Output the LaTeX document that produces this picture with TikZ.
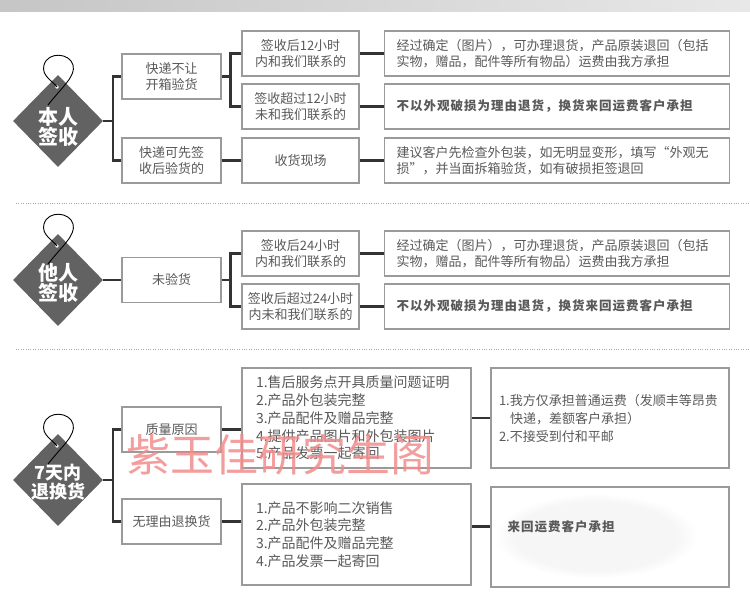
\documentclass[tikz,border=0pt]{standalone}
\usepackage{fontspec}
\newfontfamily\cjk{Noto Sans CJK SC}
\newfontfamily\cjkwide[LetterSpace=8]{Noto Sans CJK SC}
\usepackage{tikz}
\usetikzlibrary{shapes.geometric, fadings}
\usepackage{xcolor}
\definecolor{boxgray}{HTML}{9A9A9A}
\definecolor{txtgray}{HTML}{595959}
\definecolor{linkgray}{HTML}{333333}
\definecolor{taggray}{HTML}{626262}
\definecolor{markred}{HTML}{F28C8C}

\tikzset{
  leftbox/.style={draw=boxgray, line width=1.2pt, text=txtgray, align=center,
    minimum width=99pt, minimum height=45pt, inner sep=0pt,
    font=\cjk\fontsize{13}{16}\selectfont},
  midbox/.style={leftbox, minimum width=117pt},
  notebox/.style={leftbox, align=left, text width=321pt, inner xsep=12pt},
  boldnote/.style={notebox, font=\cjkwide\bfseries\fontsize{12.5}{16}\selectfont},
  listbox/.style={leftbox, align=left, text width=201pt, inner xsep=14pt,
    minimum height=100pt, font=\cjk\fontsize{14}{17.8}\selectfont},
  costbox/.style={leftbox, align=left, text width=222pt, inner xsep=8pt,
    minimum height=100pt, font=\cjk\fontsize{13}{18}\selectfont},
  tag/.style={diamond, fill=taggray, minimum width=90pt, minimum height=92pt, inner sep=0pt},
  tagtext/.style={text=white, align=center, inner sep=0pt,
    font=\cjk\bfseries\fontsize{20}{19}\selectfont},
  cord/.style={black, line width=0.9pt},
  link/.style={linkgray, line width=2.4pt},
  sepline/.style={gray!70, line width=0.8pt, dash pattern=on 1pt off 1.4pt}
}

\begin{document}
\begin{tikzpicture}[x=1pt, y=-1pt]
  \useasboundingbox (0,0) rectangle (750,610);
  \fill[white] (0,0) rectangle (750,610);
  % Header strip
  \shade[left color=gray!45, right color=gray!18] (0,0) rectangle (750,12);
  % Separators
  \draw[sepline] (16,203) -- (750,203);
  \draw[sepline] (16,349) -- (750,349);

  % Section 1
  \node[tag] (tagA) at (58,121) {};
  \node[tagtext] (tagAtext) at ([yshift=-6pt]tagA.center) {本人\\签收};
  \node[leftbox] (boxA1) at (171.5,76.5) {快递不让\\开箱验货};
  \node[leftbox] (boxA2) at (171.5,160.5) {快递可先签\\收后验货的};
  \node[midbox] (midA1) at (300.5,53.5) {签收后12小时\\内和我们联系的};
  \node[midbox] (midA2) at (300.5,106.5) {签收超过12小时\\未和我们联系的};
  \node[midbox] (midA3) at (300.5,160.5) {收货现场};
  \node[notebox] (rA1) at (557,53.5) {经过确定（图片），可办理退货，产品原装退回（包括\\实物，赠品，配件等所有物品）运费由我方承担};
  \node[boldnote] (rA2) at (557,106.5) {不以外观破损为理由退货，换货来回运费客户承担};
  \node[notebox] (rA3) at (557,160.5) {建议客户先检查外包装，如无明显变形，填写“外观无\\损”，并当面拆箱验货，如有破损拒签退回};

  % Section 2
  \node[tag] (tagB) at (58,280) {};
  \node[tagtext] (tagBtext) at ([yshift=-3pt]tagB.center) {他人\\签收};
  \node[leftbox] (boxB) at (171.5,280) {未验货};
  \node[midbox] (midB1) at (300.5,253.5) {签收后24小时\\内和我们联系的};
  \node[midbox] (midB2) at (300.5,306.5) {签收后超过24小时\\内未和我们联系的};
  \node[notebox] (rB1) at (557,253.5) {经过确定（图片），可办理退货，产品原装退回（包括\\实物，赠品，配件等所有物品）运费由我方承担};
  \node[boldnote] (rB2) at (557,306.5) {不以外观破损为理由退货，换货来回运费客户承担};

  % Section 3
  \node[tag] (tagC) at (58,480) {};
  \node[tagtext, font=\cjk\bfseries\fontsize{18}{19}\selectfont] (tagCtext)
    at ([yshift=-2pt]tagC.center) {7天内\\退换货};
  \node[leftbox] (boxC1) at (171.5,429.5) {质量原因};
  \node[leftbox] (boxC2) at (171.5,521.5) {无理由退换货};
  \node[listbox] (listC1) at (356.5,418) {1.售后服务点开具质量问题证明\\2.产品外包装完整\\3.产品配件及赠品完整\\4.提供产品图片和外包装图片\\5.产品发票一起寄回};
  \node[listbox, minimum height=101pt] (listC2) at (356.5,534.5) {1.产品不影响二次销售\\2.产品外包装完整\\3.产品配件及赠品完整\\4.产品发票一起寄回};
  \node[costbox] (rC1) at (610,418) {1.我方仅承担普通运费（发顺丰等昂贵\\\hspace*{11pt}快递，差额客户承担）\\2.不接受到付和平邮};
  \node[leftbox, minimum width=238pt, minimum height=100pt] (rC2) at (610,537) {};
  \fill[gray!7, path fading=circle with fuzzy edge 20 percent] (596,536) ellipse (100 and 42);
  \node[text=txtgray, font=\cjkwide\bfseries\fontsize{12.5}{16}\selectfont, anchor=west, inner sep=0pt]
    (rC2text) at ([xshift=17pt, yshift=10pt]rC2.west) {来回运费客户承担};

  % Cords on the tags
  \foreach \t in {tagA,tagB,tagC}{
    \fill[white] ([shift={(-1,-34)}]\t.center) circle (1.8);
    \draw[cord, shift={(\t.center)}] (-10,-16) .. controls (5,-35) and (18,-45) .. (15,-56)
      .. controls (12,-68) and (-10,-70) .. (-14,-56) .. controls (-17,-45) and (-5,-40) .. (-1,-34);
  }

  % Connectors
  \draw[link] (tagA.east) -- ++(10,0) coordinate (jA);
  \draw[link] (boxA1.west) -| (jA) |- (boxA2.west);
  \draw[link] (boxA1.east) -- ++(9,0) coordinate (jA1);
  \draw[link] (midA1.west) -| (jA1) |- (midA2.west);
  \draw[link] (boxA2.east) -- (midA3.west);
  \foreach \m/\r in {midA1/rA1, midA2/rA2, midA3/rA3, midB1/rB1, midB2/rB2}{
    \draw[link] (\m.east) -- (\r.west);
  }
  \draw[link] (tagB.east) -- (boxB.west);
  \draw[link] (boxB.east) -- ++(9,0) coordinate (jB);
  \draw[link] (midB1.west) -| (jB) |- (midB2.west);
  \draw[link] (tagC.east) -- ++(10,0) coordinate (jC);
  \draw[link] (boxC1.west) -| (jC) |- (boxC2.west);
  \draw[link] (boxC1.east) -- (boxC1.east -| listC1.west);
  \draw[link] (boxC2.east) -- (boxC2.east -| listC2.west);
  \draw[link] (listC1.east) -- (rC1.west);
  \draw[link] ([yshift=8pt]listC2.east) -- ([yshift=8pt]listC2.east -| rC2.west);

  % Watermark
  \node[text=markred, opacity=0.85, font=\cjk\fontsize{44}{44}\selectfont, inner sep=0pt]
    (mark) at (280,455) {紫玉佳研究生阁};
\end{tikzpicture}
\end{document}
